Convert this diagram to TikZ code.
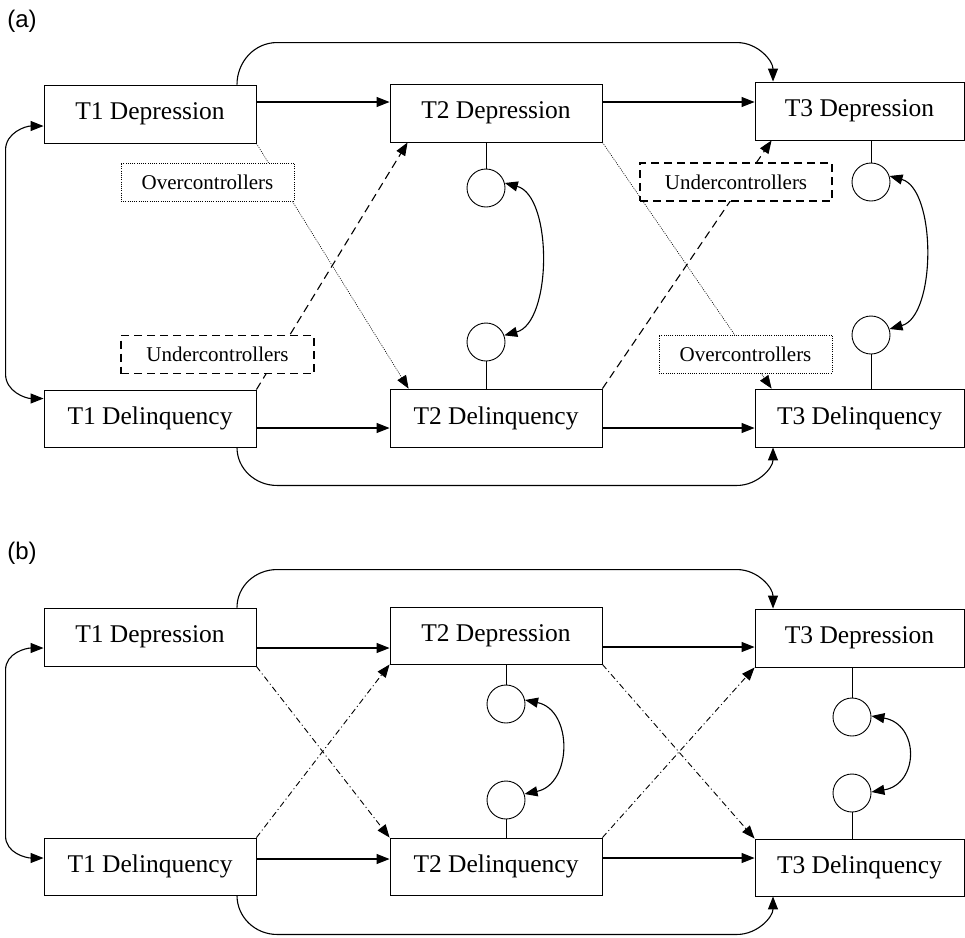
\documentclass[tikz,border=0pt]{standalone}
\usepackage{fontspec}
\setmainfont{Liberation Serif}
\newfontfamily\panelfont{Liberation Sans}
\usetikzlibrary{arrows.meta}

\begin{document}
\begin{tikzpicture}[x=1pt, y=-1pt,
    box/.style={draw, line width=0.9pt, inner sep=0pt, minimum height=58pt, font=\fontsize{25.5}{30}\selectfont},
    latent/.style={draw, circle, line width=0.9pt, minimum size=38pt, inner sep=0pt},
    group/.style={draw, fill=white, inner sep=0pt, minimum height=38pt, font=\fontsize{21}{25}\selectfont},
    tag/.style={font=\panelfont\fontsize{24}{28}\selectfont},
    tip/.style={-{Triangle[length=13pt,width=10pt]}},
    arr/.style={tip, line width=1.1pt},
    dblarr/.style={{Triangle[length=13pt,width=10pt]}-{Triangle[length=13pt,width=10pt]}, line width=1.1pt},
    stem/.style={line width=0.9pt},
    over/.style={tip, line width=0.6pt, dash pattern=on 1pt off 1.2pt},
    under/.style={tip, line width=1.1pt, dash pattern=on 8pt off 5pt},
    cross/.style={tip, line width=0.9pt, dash pattern=on 6pt off 3pt on 1pt off 3pt}]
    \useasboundingbox (0,0) rectangle (965,937);

    \node[tag] (taga) at (22,21) {(a)};

    \node[box, minimum width=212pt] (dep1a) at (150,114) {T1 Depression};
    \node[box, minimum width=212pt] (dep2a) at (496,113) {T2 Depression};
    \node[box, minimum width=209pt] (dep3a) at (859.5,111) {T3 Depression};
    \node[box, minimum width=212pt, minimum height=57pt] (del1a) at (150,418.5) {T1 Delinquency};
    \node[box, minimum width=212pt] (del2a) at (496,418) {T2 Delinquency};
    \node[box, minimum width=209pt] (del3a) at (859.5,418) {T3 Delinquency};

    \node[latent] (rdep2a) at (486,188) {};
    \node[latent] (rdel2a) at (486,342) {};
    \node[latent] (rdep3a) at (871,182) {};
    \node[latent] (rdel3a) at (871,335) {};

    \draw[stem] (rdep2a) -- (rdep2a |- dep2a.south);
    \draw[stem] (rdel2a) -- (rdel2a |- del2a.north);
    \draw[stem] (rdep3a) -- (rdep3a |- dep3a.south);
    \draw[stem] (rdel3a) -- (rdel3a |- del3a.north);

    \draw[dblarr] (rdep2a.15) .. controls +(48,13) and +(48,-13) .. (rdel2a.20);
    \draw[dblarr] (rdep3a.18) .. controls +(47,13) and +(47,-13) .. (rdel3a.18);

    \draw[arr] (dep1a.east |- 0,102) -- (dep2a.west |- 0,102);
    \draw[arr] (dep2a.east |- 0,102) -- (dep3a.west |- 0,102);
    \draw[arr] (del1a.east |- 0,428) -- (del2a.west |- 0,428);
    \draw[arr] (del2a.east |- 0,428) -- (del3a.west |- 0,428);

    \draw[arr] ([xshift=87pt]dep1a.north) to[out=90,in=180] ++(40,-42) coordinate (topa)
        -- ([xshift=-122.5pt]dep3a.north |- topa) to[out=0,in=90] ([xshift=-86.5pt]dep3a.north);
    \draw[arr] ([xshift=87pt]del1a.south) to[out=-90,in=180] ++(40,38) coordinate (bota)
        -- ([xshift=-122.5pt]del3a.south |- bota) to[out=0,in=-90] ([xshift=-86.5pt]del3a.south);
    \draw[dblarr] ([yshift=-12pt]dep1a.west) to[out=180,in=90] ++(-38,24) -- ++(0,224) to[out=-90,in=180] ([yshift=20pt]del1a.west);

    \draw[over] (dep1a.south east) -- ([xshift=19pt]del2a.north west);
    \draw[under] (del1a.north east) -- ([xshift=18pt]dep2a.south west);
    \draw[under] (del2a.north east) -- ([xshift=17pt]dep3a.south west);
    \draw[over] (dep2a.south east) -- ([xshift=17pt]del3a.north west);

    \node[group, minimum width=173pt, line width=0.6pt, dash pattern=on 1pt off 1.2pt] (over1) at (207.5,182) {Overcontrollers};
    \node[group, minimum width=193pt, line width=1.1pt, dash pattern=on 8pt off 5pt] (under1) at (217.5,354.5) {Undercontrollers};
    \node[group, minimum width=192pt, line width=1.1pt, dash pattern=on 8pt off 5pt] (under2) at (736,182) {Undercontrollers};
    \node[group, minimum width=173pt, line width=0.6pt, dash pattern=on 1pt off 1.2pt] (over2) at (745.5,354) {Overcontrollers};

    \node[tag] (tagb) at (22,553) {(b)};

    \node[box, minimum width=212pt] (dep1b) at (150,637) {T1 Depression};
    \node[box, minimum width=212pt, minimum height=57pt] (dep2b) at (496,635.5) {T2 Depression};
    \node[box, minimum width=209pt] (dep3b) at (859.5,638) {T3 Depression};
    \node[box, minimum width=212pt, minimum height=57pt] (del1b) at (150,866.5) {T1 Delinquency};
    \node[box, minimum width=212pt, minimum height=57pt] (del2b) at (496,866.5) {T2 Delinquency};
    \node[box, minimum width=209pt, minimum height=57pt] (del3b) at (859.5,867.5) {T3 Delinquency};

    \node[latent] (rdep2b) at (506,704) {};
    \node[latent] (rdel2b) at (506,800) {};
    \node[latent] (rdep3b) at (852,717) {};
    \node[latent] (rdel3b) at (852,793) {};

    \draw[stem] (rdep2b) -- (rdep2b |- dep2b.south);
    \draw[stem] (rdel2b) -- (rdel2b |- del2b.north);
    \draw[stem] (rdep3b) -- (rdep3b |- dep3b.south);
    \draw[stem] (rdel3b) -- (rdel3b |- del3b.north);

    \draw[dblarr] (rdep2b.12) .. controls +(48,10) and +(48,-10) .. (rdel2b.18);
    \draw[dblarr] (rdep3b.3) .. controls +(48,8) and +(48,-8) .. (rdel3b.3);

    \draw[arr] (dep1b.east |- 0,648) -- (dep2b.west |- 0,648);
    \draw[arr] (dep2b.east |- 0,647) -- (dep3b.west |- 0,647);
    \draw[arr] (del1b.east |- 0,859) -- (del2b.west |- 0,859);
    \draw[arr] (del2b.east |- 0,858) -- (del3b.west |- 0,858);

    \draw[arr] ([xshift=87pt]dep1b.north) to[out=90,in=180] ++(40,-38) coordinate (topb)
        -- ([xshift=-122.5pt]dep3b.north |- topb) to[out=0,in=90] ([xshift=-86.5pt]dep3b.north);
    \draw[arr] ([xshift=87pt]del1b.south) to[out=-90,in=180] ++(40,39) coordinate (botb)
        -- ([xshift=-122.5pt]del3b.south |- botb) to[out=0,in=-90] ([xshift=-86.5pt]del3b.south);
    \draw[dblarr] ([yshift=-11pt]dep1b.west) to[out=180,in=90] ++(-38,22) -- ++(0,166) to[out=-90,in=180] ([yshift=8.5pt]del1b.west);

    \draw[cross] (dep1b.south east) -- (del2b.north west);
    \draw[cross] (del1b.north east) -- (dep2b.south west);
    \draw[cross] (dep2b.south east) -- (del3b.north west);
    \draw[cross] (del2b.north east) -- (dep3b.south west);
\end{tikzpicture}
\end{document}
